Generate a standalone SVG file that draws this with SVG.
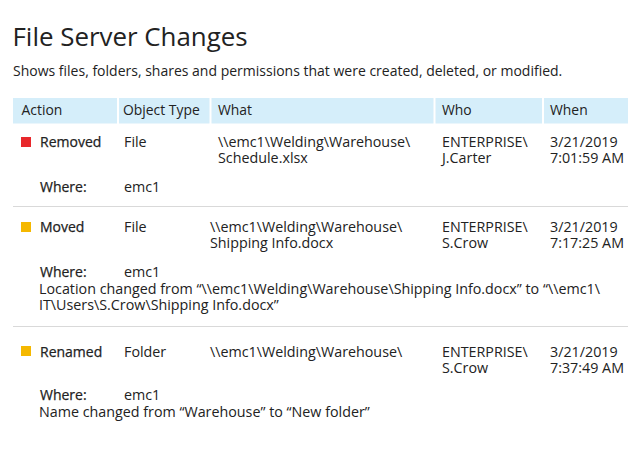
<svg xmlns="http://www.w3.org/2000/svg" width="640" height="450" viewBox="0 0 640 450">
<style>
text{font-family:"Open Sans","Noto Sans","DejaVu Sans",sans-serif;fill:#222222;font-size:14.3px}
.title{font-size:25.9px}
.sub{font-size:14px}
.h{font-size:13.9px}
.hd{fill:#d5eefa}
.b{font-weight:500;font-size:14px;stroke:#222222;stroke-width:0.25}
.sep{stroke:#d9d9d9;stroke-width:1.2}
</style>
<rect width="640" height="450" fill="#ffffff"/>
<text class="title" x="12.5" y="45.5">File Server Changes</text>
<text class="sub" x="13" y="76">Shows files, folders, shares and permissions that were created, deleted, or modified.</text>
<g id="header">
<rect class="hd" x="13" y="98" width="104" height="25.5"/>
<rect class="hd" x="119" y="98" width="90.5" height="25.5"/>
<rect class="hd" x="211.5" y="98" width="222" height="25.5"/>
<rect class="hd" x="435.5" y="98" width="106.5" height="25.5"/>
<rect class="hd" x="544" y="98" width="84" height="25.5"/>
<text class="h" x="21.5" y="115">Action</text>
<text class="h" x="123" y="115">Object Type</text>
<text class="h" x="218" y="115">What</text>
<text class="h" x="442" y="115">Who</text>
<text class="h" x="550" y="115">When</text>
</g>
<g id="connectors">
<line class="sep" x1="13" y1="206.5" x2="628" y2="206.5"/>
<line class="sep" x1="13" y1="326.5" x2="628" y2="326.5"/>
</g>
<g id="row-removed">
<rect x="21" y="137" width="10" height="10" fill="#e8282c"/>
<text class="b" x="40" y="147">Removed</text>
<text x="124" y="147">File</text>
<text x="218" y="147">\\emc1\Welding\Warehouse\</text>
<text x="218" y="163">Schedule.xlsx</text>
<text x="442" y="147">ENTERPRISE\</text>
<text x="442" y="163">J.Carter</text>
<text x="550" y="147">3/21/2019</text>
<text x="550" y="163">7:01:59 AM</text>
<text class="b" x="40" y="192">Where:</text>
<text x="124" y="192">emc1</text>
</g>
<g id="row-moved">
<rect x="21" y="222" width="10" height="10" fill="#f5b800"/>
<text class="b" x="40" y="232">Moved</text>
<text x="124" y="232">File</text>
<text x="210" y="232">\\emc1\Welding\Warehouse\</text>
<text x="210" y="248">Shipping Info.docx</text>
<text x="442" y="232">ENTERPRISE\</text>
<text x="442" y="248">S.Crow</text>
<text x="550" y="232">3/21/2019</text>
<text x="550" y="248">7:17:25 AM</text>
<text class="b" x="40" y="276.5">Where:</text>
<text x="124" y="276.5">emc1</text>
<text x="39" y="294">Location changed from “\\emc1\Welding\Warehouse\Shipping Info.docx” to “\\emc1\</text>
<text x="39" y="310">IT\Users\S.Crow\Shipping Info.docx”</text>
</g>
<g id="row-renamed">
<rect x="21" y="346" width="10" height="10" fill="#f5b800"/>
<text class="b" x="40" y="356.5">Renamed</text>
<text x="124" y="356.5">Folder</text>
<text x="210" y="356.5">\\emc1\Welding\Warehouse\</text>
<text x="442" y="356.5">ENTERPRISE\</text>
<text x="442" y="372.5">S.Crow</text>
<text x="550" y="356.5">3/21/2019</text>
<text x="550" y="372.5">7:37:49 AM</text>
<text class="b" x="40" y="400">Where:</text>
<text x="124" y="400">emc1</text>
<text x="39" y="417">Name changed from “Warehouse” to “New folder”</text>
</g>
</svg>
